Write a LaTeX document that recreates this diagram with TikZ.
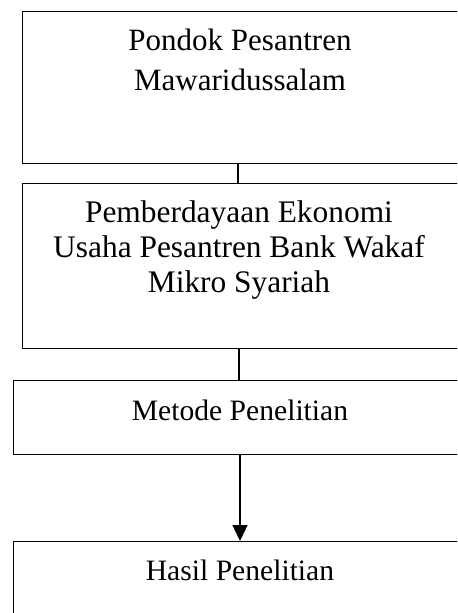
\documentclass[tikz,border=0pt]{standalone}
\usepackage{fontspec}
\setmainfont{Liberation Serif}
\usetikzlibrary{arrows.meta}
\begin{document}
\begin{tikzpicture}[x=0.5pt, y={(0pt,-0.5pt)}, line width=0.65pt, line join=round, >={Triangle[length=8pt,width=7.5pt]}, font=\fontsize{14.8}{17.5}\selectfont]
				\tikzset{box/.style={draw, anchor=north west, inner sep=0pt},
					txt/.style={anchor=base, align=center, inner sep=0pt}}
				\useasboundingbox (0,0) rectangle (457,613);
				\clip (0,0) rectangle (457,613);
				% kotak
				\node[box, minimum width=224pt, minimum height=76pt] (pondok) at (22,11) {};
				\node[box, minimum width=224pt, minimum height=82.5pt] (usaha) at (22,183) {};
				\node[box, minimum width=228.5pt, minimum height=37pt] (metode) at (13,380) {};
				\node[box, minimum width=228.5pt, minimum height=50pt] (hasil) at (13,541) {};
				% teks (base = baris terakhir)
				\node[txt, font=\fontsize{15.5}{20}\selectfont] (pondoktxt) at (240,91) {Pondok Pesantren\\Mawaridussalam};
				\node[txt, font=\fontsize{15.7}{17.5}\selectfont] (usahatxt) at (239,293) {Pemberdayaan Ekonomi\\Usaha Pesantren Bank Wakaf\\Mikro Syariah};
				\node[txt] (metodetxt) at (240,420) {Metode Penelitian};
				\node[txt] (hasiltxt) at (240,580) {Hasil Penelitian};
				% garis
				\draw (pondok.south -| 238,0) -- (usaha.north -| 238,0);
				\draw (usaha.south -| usahatxt) -- (metode.north -| usahatxt);
				\draw[->] (metode.south -| metodetxt) -- (hasil.north -| metodetxt);
			\end{tikzpicture}
\end{document}
